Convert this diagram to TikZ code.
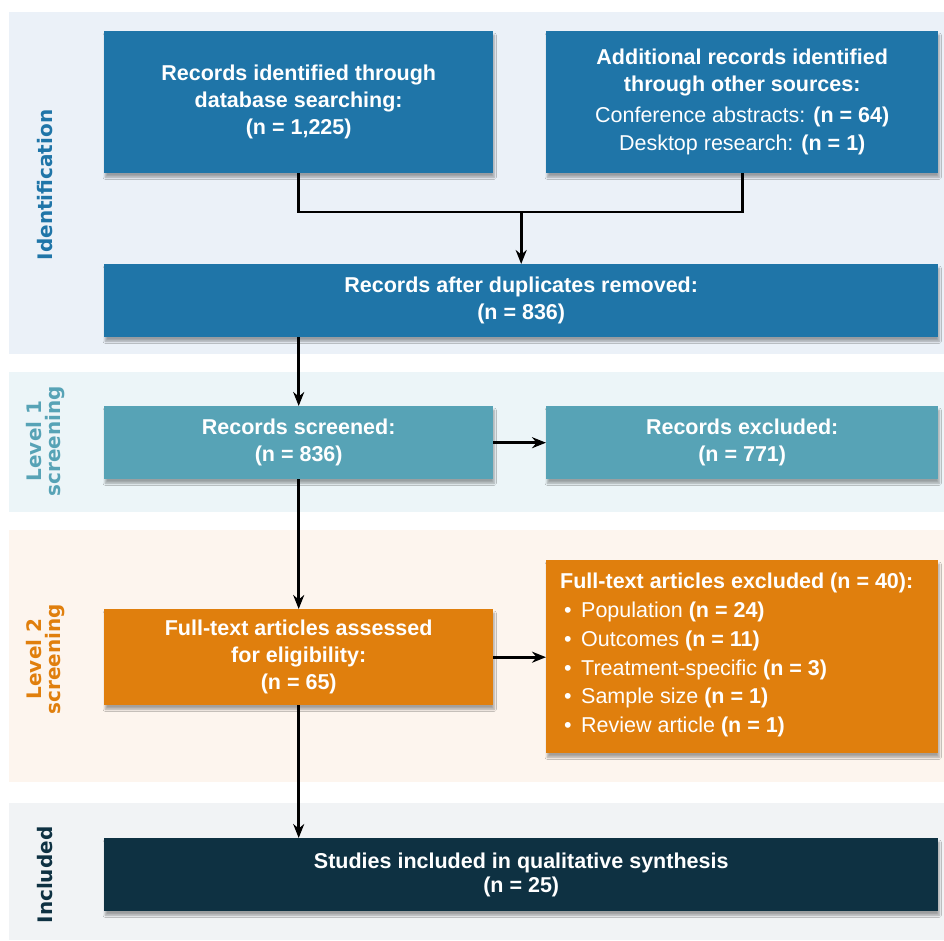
\documentclass[tikz,border=0pt]{standalone}
\usepackage{fontspec}
\setmainfont{Liberation Sans}
\newfontfamily\sidefont{DejaVu Sans}
\usetikzlibrary{arrows.meta,shadows.blur,positioning,calc}
\definecolor{bandA}{HTML}{EBF1F8}
\definecolor{bandB}{HTML}{ECF5F8}
\definecolor{bandC}{HTML}{FDF5EE}
\definecolor{bandD}{HTML}{F1F3F5}
\definecolor{cblue}{HTML}{1F75A8}
\definecolor{cteal}{HTML}{57A3B6}
\definecolor{corange}{HTML}{E07F0D}
\definecolor{cdark}{HTML}{0E3142}
\tikzset{
  box/.style={anchor=north west, inner sep=0pt, text=white, align=center,
    font=\fontsize{21.5}{27}\selectfont,
    blur shadow={shadow xshift=1pt, shadow yshift=-4pt, shadow blur steps=6, shadow opacity=35}},
  conn/.style={line width=2.8pt, draw=black},
  arr/.style={conn, -{Stealth[length=14pt,width=11pt]}},
  side/.style={rotate=90, font=\sidefont\bfseries\fontsize{20}{23}\selectfont, align=center}
}
\begin{document}
\begin{tikzpicture}[x=1pt,y=-1pt]
\useasboundingbox[fill=white] (0,0) rectangle (944,940);
% bands
\fill[bandA] (9,12) rectangle (944,354);
\fill[bandB] (9,372) rectangle (944,512);
\fill[bandC] (9,530) rectangle (944,782);
\fill[bandD] (9,803) rectangle (944,940);
% side labels
\node[side, text=cblue] (sA) at (45,185) {Identification};
\node[side, text=cteal] (sB) at (46,441) {Level 1\\[-4pt]screening};
\node[side, text=corange] (sC) at (46,659) {Level 2\\[-4pt]screening};
\node[side, text=cdark] (sD) at (45,875) {Included};
% boxes
\node[box, fill=cblue, minimum width=389pt, minimum height=142pt] (b1) at (104,31)
  {\textbf{Records identified through}\\\textbf{database searching:}\\\textbf{(n = 1,225)}};
\node[box, fill=cblue, minimum width=392pt, minimum height=142pt] (b2) at (546,31)
  {\textbf{Additional records identified}\\\textbf{through other sources:}\\[4pt]Conference abstracts: \textbf{(n = 64)}\\[1pt]Desktop research: \textbf{(n = 1)}};
\node[box, fill=cblue, minimum width=834pt, minimum height=73pt] (b3) at (104,264)
  {\textbf{Records after duplicates removed:}\\\textbf{(n = 836)}};
\node[box, fill=cteal, minimum width=389pt, minimum height=73pt] (b4) at (104,406)
  {\textbf{Records screened:}\\\textbf{(n = 836)}};
\node[box, fill=cteal, minimum width=392pt, minimum height=73pt] (b5) at (546,406)
  {\textbf{Records excluded:}\\\textbf{(n = 771)}};
\node[box, fill=corange, minimum width=389pt, minimum height=96pt] (b6) at (104,609)
  {\textbf{Full-text articles assessed}\\\textbf{for eligibility:}\\\textbf{(n = 65)}};
\node[box, fill=corange, minimum width=392pt, minimum height=193pt] (b7) at (546,560)
  {};
\node[anchor=north west, inner sep=0pt, text=white, align=left,
  font=\fontsize{21.5}{28.8}\selectfont] (b7t) at ($(b7.north west)+(14,13)$)
  {\textbf{Full-text articles excluded (n = 40):}\\
   \makebox[21pt][l]{\hspace{4pt}\textbullet}Population \textbf{(n = 24)}\\
   \makebox[21pt][l]{\hspace{4pt}\textbullet}Outcomes \textbf{(n = 11)}\\
   \makebox[21pt][l]{\hspace{4pt}\textbullet}Treatment-specific \textbf{(n = 3)}\\
   \makebox[21pt][l]{\hspace{4pt}\textbullet}Sample size \textbf{(n = 1)}\\
   \makebox[21pt][l]{\hspace{4pt}\textbullet}Review article \textbf{(n = 1)}};
\node[box, fill=cdark, minimum width=834pt, minimum height=73pt] (b8) at (104,838)
  {\textbf{Studies included in qualitative synthesis}\\[-3pt]\textbf{(n = 25)}};
% connectors
\coordinate (m) at ($(b3.north)+(0,-52)$);
\draw[conn] (b1.south) |- (m) -| (b2.south);
\draw[arr] (m) -- (b3.north);
\draw[arr] (b3.south -| b4.north) -- (b4.north);
\draw[arr] (b4.east) -- (b5.west);
\draw[arr] (b4.south) -- (b6.north);
\draw[arr] (b6.east) -- (b6.east -| b7.west);
\draw[arr] (b6.south) -- (b6.south |- b8.north);
\end{tikzpicture}
\end{document}
